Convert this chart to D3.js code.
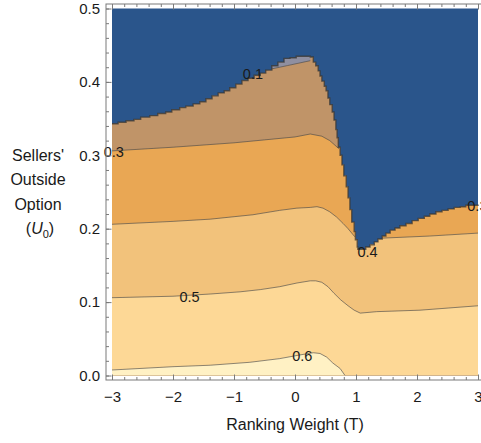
<!DOCTYPE html>
<html lang="en">
<head>
<meta charset="UTF-8">
<title>Sellers' outside option vs ranking weight</title>
<style>
    body { margin: 0; padding: 0; background: white; overflow: hidden; }
    text { font-family: "Liberation Sans", Arial, sans-serif; fill: #1a1a1a; }
</style>
</head>
<body>
<svg id="chart" width="481" height="443"></svg>
<script src="https://d3js.org/d3.v7.min.js"></script>
<script>
    // band colours, lowest band (< 0.1) first
    const bandColors = ["#2a558b", "#8f8fa0", "#c09468", "#e9a754", "#f2c27b", "#fdd896", "#fff1c4"];

    const xTicks = [-3, -2, -1, 0, 1, 2, 3];
    const yTicks = [0.0, 0.1, 0.2, 0.3, 0.4, 0.5];

    // edge where the surface drops into the lowest band (0.1 .. 0.3 contours stack on it)
    const jumpEdge = [
        [-3.00, 0.343], [-2.90, 0.345], [-2.77, 0.347], [-2.64, 0.349], [-2.53, 0.352],
        [-2.38, 0.354], [-2.25, 0.357], [-2.12, 0.359], [-2.02, 0.362], [-1.89, 0.365],
        [-1.79, 0.367], [-1.67, 0.370], [-1.56, 0.373], [-1.46, 0.377], [-1.36, 0.381],
        [-1.26, 0.385], [-1.16, 0.388], [-1.07, 0.392], [-0.97, 0.397], [-0.87, 0.402],
        [-0.77, 0.405], [-0.67, 0.409], [-0.57, 0.412], [-0.48, 0.416], [-0.38, 0.422],
        [-0.28, 0.427], [-0.18, 0.432], [-0.08, 0.433], [0.02, 0.435], [0.08, 0.435],
        [0.18, 0.435], [0.25, 0.434], [0.30, 0.427], [0.34, 0.422], [0.38, 0.415],
        [0.41, 0.408], [0.44, 0.401], [0.48, 0.394], [0.51, 0.388], [0.54, 0.378],
        [0.57, 0.369], [0.61, 0.359], [0.64, 0.348], [0.67, 0.335], [0.69, 0.324],
        [0.71, 0.311], [0.74, 0.300], [0.77, 0.287], [0.80, 0.272], [0.84, 0.257],
        [0.87, 0.242], [0.90, 0.226], [0.93, 0.209], [0.97, 0.196], [0.99, 0.185],
        [1.02, 0.175], [1.03, 0.172], [1.10, 0.172], [1.16, 0.175], [1.23, 0.178],
        [1.30, 0.182], [1.36, 0.186], [1.43, 0.190], [1.49, 0.194], [1.56, 0.198],
        [1.64, 0.201], [1.72, 0.204], [1.82, 0.207], [1.92, 0.211], [2.02, 0.214],
        [2.12, 0.217], [2.21, 0.220], [2.31, 0.223], [2.41, 0.225], [2.51, 0.227],
        [2.61, 0.229], [2.71, 0.230], [2.80, 0.232], [2.90, 0.232], [3.00, 0.233]
    ];

    // smooth contours as visible pieces of [T, U0]
    const contour02 = [
        [[-0.51, 0.4155], [-0.12, 0.4223], [0.25, 0.4289]]
    ];
    const contour03 = [
        [[-3.00, 0.306], [-2.00, 0.311], [-1.00, 0.317], [-0.50, 0.321], [0.00, 0.325],
         [0.25, 0.329], [0.44, 0.326], [0.57, 0.320], [0.72, 0.309]]
    ];
    const contour04 = [
        [[-3.00, 0.206], [-2.00, 0.210], [-1.39, 0.213], [-0.69, 0.219], [-0.25, 0.225],
         [0.03, 0.228], [0.25, 0.229], [0.36, 0.230], [0.46, 0.228], [0.57, 0.223],
         [0.68, 0.216], [0.79, 0.207], [0.87, 0.200], [0.98, 0.189]],
        [[1.39, 0.187], [2.21, 0.190], [3.00, 0.194]]
    ];
    const contour05 = [
        [[-3.00, 0.106], [-2.00, 0.108], [-1.39, 0.111], [-0.90, 0.114], [-0.57, 0.117],
         [-0.25, 0.121], [0.03, 0.126], [0.25, 0.129], [0.34, 0.129], [0.44, 0.127],
         [0.54, 0.121], [0.64, 0.112], [0.75, 0.103], [0.87, 0.095], [0.97, 0.089],
         [1.07, 0.085], [1.34, 0.087], [2.05, 0.089], [3.00, 0.095]]
    ];
    const contour06 = [
        [[-3.00, 0.0075], [-2.00, 0.012], [-1.39, 0.014], [-0.74, 0.018], [-0.25, 0.023],
         [0.08, 0.028], [0.30, 0.031], [0.41, 0.030], [0.52, 0.025], [0.62, 0.017],
         [0.74, 0.0095], [0.82, 0.0]]
    ];

    const contourLabels = [
        { text: "0.1", t: -0.69, u: 0.411 },
        { text: "0.3", t: -2.97, u: 0.305 },
        { text: "0.5", t: -1.73, u: 0.107 },
        { text: "0.6", t: 0.12, u: 0.027 },
        { text: "0.4", t: 1.19, u: 0.168 },
        { text: "0.3", t: 2.99, u: 0.231 }
    ];

    const svg = d3.select("#chart");

    const x = d3.scaleLinear().domain([-3, 3]).range([112, 478]);
    const y = d3.scaleLinear().domain([0, 0.5]).range([375.5, 8.5]);

    const CEIL = 0.5;

    // a contour's fill edge: where a piece is missing the band reaches up to the jump edge
    function fillEdge(pieces) {
        let pts = [];
        let prevEnd = -3;
        pieces.forEach(function(p) {
            if (p[0][0] > prevEnd) {
                pts.push([prevEnd, CEIL], [p[0][0] - 0.005, CEIL]);
            }
            pts = pts.concat(p);
            prevEnd = p[p.length - 1][0];
        });
        const last = pts[pts.length - 1];
        if (prevEnd < 3 && last[1] > 0) {
            pts.push([prevEnd + 0.005, CEIL], [3, CEIL]);
        }
        return pts;
    }

    const below = d3.area()
        .x(function(d) { return x(d[0]); })
        .y0(y(0))
        .y1(function(d) { return y(d[1]); });
    const belowStep = d3.area()
        .curve(d3.curveStepAfter)
        .x(function(d) { return x(d[0]); })
        .y0(y(0))
        .y1(function(d) { return y(d[1]); });
    const line = d3.line()
        .x(function(d) { return x(d[0]); })
        .y(function(d) { return y(d[1]); });
    const stepLine = d3.line()
        .curve(d3.curveStepAfter)
        .x(function(d) { return x(d[0]); })
        .y(function(d) { return y(d[1]); });

    svg.append("clipPath").attr("id", "defined")
        .append("path").attr("d", belowStep(jumpEdge));

    // lowest band covers the whole plot
    svg.append("rect")
        .attr("x", x(-3)).attr("y", y(0.5))
        .attr("width", x(3) - x(-3)).attr("height", y(0) - y(0.5))
        .attr("fill", bandColors[0]);

    const g = svg.append("g").attr("clip-path", "url(#defined)");

    g.append("rect")
        .attr("x", x(-3)).attr("y", y(0.5))
        .attr("width", x(3) - x(-3)).attr("height", y(0) - y(0.5))
        .attr("fill", bandColors[1]);

    const contours = [contour02, contour03, contour04, contour05, contour06];
    contours.forEach(function(c, i) {
        g.append("path")
            .attr("d", below(fillEdge(c)))
            .attr("fill", bandColors[i + 2]);
    });
    contours.forEach(function(c) {
        c.forEach(function(p) {
            g.append("path")
                .attr("d", line(p))
                .attr("fill", "none")
                .attr("stroke", "#4a4a4a")
                .attr("stroke-opacity", 0.8)
                .attr("stroke-width", 0.8);
        });
    });

    svg.append("path")
        .attr("d", stepLine(jumpEdge))
        .attr("fill", "none")
        .attr("stroke", "#3a3530")
        .attr("stroke-opacity", 0.75)
        .attr("stroke-width", 1.4);

    svg.selectAll("text.clabel")
        .data(contourLabels)
        .enter()
        .append("text")
        .attr("class", "clabel")
        .attr("x", function(d) { return x(d.t); })
        .attr("y", function(d) { return y(d.u); })
        .attr("dy", "0.35em")
        .attr("text-anchor", "middle")
        .attr("font-size", "14.5px")
        .text(function(d) { return d.text; });

    // frame
    const fl = x(-3) - 6, fr = x(3) + 6, ft = y(0.5) - 4.5, fb = y(0) + 4.5;
    svg.append("rect")
        .attr("x", fl).attr("y", ft)
        .attr("width", fr - fl).attr("height", fb - ft)
        .attr("fill", "none").attr("stroke", "#7a7a7a").attr("stroke-width", 1);

    function styleAxis(sel) {
        sel.select(".domain").remove();
        sel.selectAll(".tick line").attr("stroke", "#7a7a7a");
        sel.selectAll(".tick text").attr("font-size", "15px").attr("fill", "#1a1a1a")
            .attr("font-family", "\"Liberation Sans\", Arial, sans-serif");
    }

    const xMinor = d3.range(-3, 3.001, 0.2);
    const yMinor = d3.range(0, 0.5001, 0.02);

    svg.append("g").attr("transform", "translate(0," + fb + ")")
        .call(d3.axisBottom(x).tickValues(xMinor).tickSize(-3).tickFormat(""))
        .call(styleAxis);
    svg.append("g").attr("transform", "translate(0," + fb + ")")
        .call(d3.axisBottom(x).tickValues(xTicks).tickSize(-5.5).tickPadding(11).tickFormat(d3.format("d")))
        .call(styleAxis);
    svg.append("g").attr("transform", "translate(0," + ft + ")")
        .call(d3.axisTop(x).tickValues(xMinor).tickSize(-3).tickFormat(""))
        .call(styleAxis);
    svg.append("g").attr("transform", "translate(0," + ft + ")")
        .call(d3.axisTop(x).tickValues(xTicks).tickSize(-5.5).tickFormat(""))
        .call(styleAxis);
    svg.append("g").attr("transform", "translate(" + fl + ",0)")
        .call(d3.axisLeft(y).tickValues(yMinor).tickSize(-3).tickFormat(""))
        .call(styleAxis);
    svg.append("g").attr("transform", "translate(" + fl + ",0)")
        .call(d3.axisLeft(y).tickValues(yTicks).tickSize(-5.5).tickPadding(6).tickFormat(d3.format(".1f")))
        .call(styleAxis);

    // axis titles
    svg.append("text")
        .attr("x", x(0)).attr("y", 430)
        .attr("text-anchor", "middle")
        .attr("font-size", "16px")
        .text("Ranking Weight (T)");

    const yTitle = ["Sellers'", "Outside", "Option"];
    svg.selectAll("text.ytitle")
        .data(yTitle)
        .enter()
        .append("text")
        .attr("class", "ytitle")
        .attr("x", 38)
        .attr("y", function(d, i) { return 160.7 + i * 24.5; })
        .attr("text-anchor", "middle")
        .attr("font-size", "16px")
        .text(function(d) { return d; });

    const u0 = svg.append("text")
        .attr("x", 40).attr("y", 160.7 + 3 * 24.5)
        .attr("text-anchor", "middle")
        .attr("font-size", "16px");
    u0.append("tspan").text("(");
    u0.append("tspan").attr("font-style", "italic").text("U");
    u0.append("tspan").attr("font-size", "11px").attr("dy", 4).text("0");
    u0.append("tspan").attr("dy", -4).text(")");
</script>
</body>
</html>
